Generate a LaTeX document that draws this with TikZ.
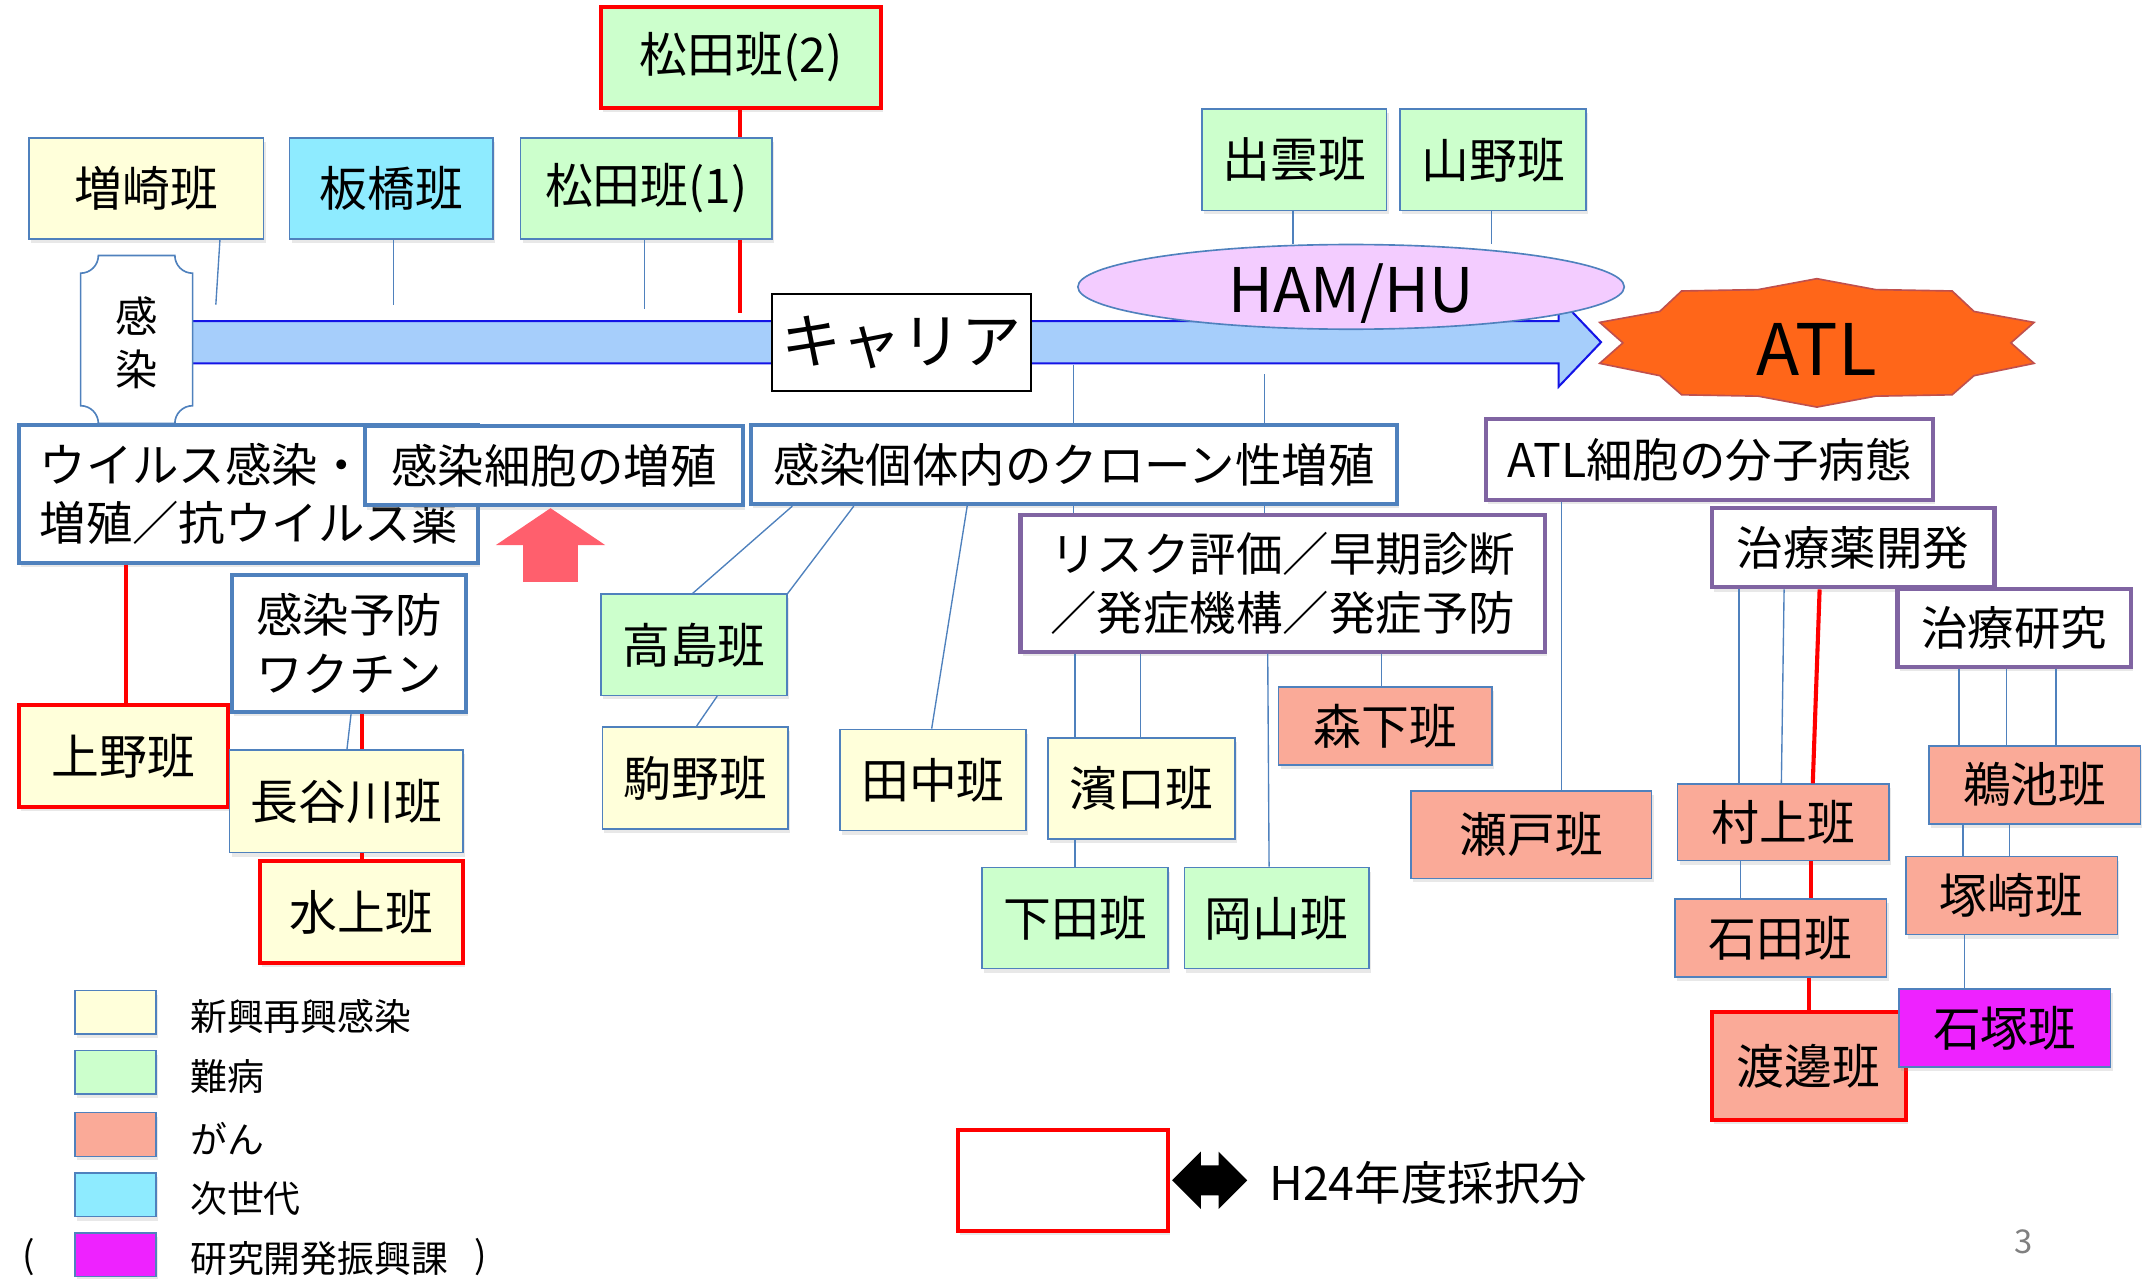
\documentclass[tikz,border=0pt]{standalone}
\usepackage{fontspec}
\setmainfont{Noto Sans CJK JP}
\usetikzlibrary{shapes.geometric,shadows}

\definecolor{shinko}{HTML}{FFFFDA}
\definecolor{nanbyo}{HTML}{CCFFCC}
\definecolor{gan}{HTML}{FAAA98}
\definecolor{jisedai}{HTML}{8EEBFF}
\definecolor{shinkoka}{HTML}{EE22FF}
\definecolor{frame}{HTML}{4F81BD}
\definecolor{violet}{HTML}{8064A2}
\definecolor{carrierfill}{HTML}{A6CEFB}
\definecolor{carrierline}{HTML}{1414E6}
\definecolor{hamfill}{HTML}{F3CCFF}
\definecolor{atlfill}{HTML}{FF6619}
\definecolor{atlline}{HTML}{C0504D}
\definecolor{uparrow}{HTML}{FF5F6D}

\begin{document}
\begin{tikzpicture}[x=1pt, y=-1pt]
    \tikzstyle{han} = [draw=frame, line width=1.2pt, inner sep=0pt, font=\fontsize{35}{42}\selectfont, drop shadow={opacity=0.18, shadow xshift=1.5pt, shadow yshift=-3pt}]
    \tikzstyle{saiyo} = [draw=red, line width=3pt]
    \tikzstyle{topic} = [draw=frame, line width=3pt, fill=white, inner sep=0pt, align=left, font=\fontsize{34}{43}\selectfont, drop shadow={opacity=0.18, shadow xshift=1.5pt, shadow yshift=-3pt}]
    \tikzstyle{goal} = [topic, draw=violet]
    \tikzstyle{link} = [draw=frame, line width=1pt]
    \tikzstyle{redlink} = [draw=red, line width=3pt]
    \tikzstyle{swatch} = [draw=frame, line width=1.2pt, minimum width=59pt, minimum height=32pt, inner sep=0pt, drop shadow={opacity=0.18, shadow xshift=1.5pt, shadow yshift=-3pt}]
    \tikzstyle{legtext} = [anchor=west, inner sep=0pt, font=\fontsize{27}{32}\selectfont]
    \useasboundingbox (0,0) rectangle (1568,936);

    % course of infection
    \draw[line width=1.5pt, draw=carrierline, fill=carrierfill] (120,235) -- (1141,235) -- (1141,218) -- (1172,250.5) -- (1141,283) -- (1141,266) -- (120,266) -- cycle;
    \draw[draw=frame, line width=1.2pt, fill=white] (72,187) -- (128,187) arc[start angle=180, end angle=270, radius=13pt] -- (141,297) arc[start angle=90, end angle=180, radius=13pt] -- (72,310) arc[start angle=0, end angle=90, radius=13pt] -- (59,200) arc[start angle=270, end angle=360, radius=13pt] -- cycle;
    \node[align=center, inner sep=0pt, font=\fontsize{31}{39}\selectfont] (kansen) at (100,251) {感\\染};
    \node[draw=black, line width=1.5pt, fill=white, inner sep=0pt, minimum width=190pt, minimum height=71pt, font=\fontsize{44}{50}\selectfont] (carrier) at (660,250.5) {キャリア};
    \node[ellipse, draw=frame, line width=1.2pt, fill=hamfill, inner sep=0pt, minimum width=400pt, minimum height=62pt] (ham) at (989,210) {};
    \node[inner sep=0pt, font=\fontsize{45}{50}\selectfont] (hamtext) at (989,215) {HAM/HU};
    \begin{scope}[shift={(1330,251)}]
        \draw[draw=atlline, line width=1.2pt, fill=atlfill] (0,-47) -- (-43,-39) -- (-99,-38) -- (-115,-23) -- (-159,-15) -- (-142,0) -- (-159,15) -- (-115,24) -- (-99,38) -- (-43,39) -- (0,47) -- (43,39) -- (99,38) -- (115,24) -- (159,15) -- (142,0) -- (159,-15) -- (115,-23) -- (99,-38) -- (43,-39) -- cycle;
    \end{scope}
    \node[inner sep=0pt, font=\fontsize{52}{56}\selectfont] (atl) at (1330,256) {ATL};

    % groups above the arrow
    \node[han, saiyo, fill=nanbyo, minimum width=205pt, minimum height=74pt] (matsudaB) at (542.5,42) {松田班(2)};
    \node[han, fill=shinko, minimum width=172pt, minimum height=74pt] (masuzaki) at (107,138) {増崎班};
    \node[han, fill=jisedai, minimum width=149pt, minimum height=74pt] (itabashi) at (286.5,138) {板橋班};
    \node[han, fill=nanbyo, minimum width=184pt, minimum height=74pt] (matsudaA) at (473,138) {松田班(1)};
    \node[han, fill=nanbyo, minimum width=135pt, minimum height=74pt] (izumo) at (947.5,117) {出雲班};
    \node[han, fill=nanbyo, minimum width=136pt, minimum height=74pt] (yamano) at (1093,117) {山野班};

    % topics
    \node[topic, minimum width=336pt, minimum height=101pt] (virus) at (182,361.5) {ウイルス感染・\\増殖／抗ウイルス薬};
    \node[topic, minimum width=277pt, minimum height=58pt] (cellgrowth) at (405.5,341) {感染細胞の増殖};
    \node[topic, minimum width=473pt, minimum height=58pt] (clone) at (786,340) {感染個体内のクローン性増殖};
    \node[topic, minimum width=171pt, minimum height=100pt] (vaccine) at (255.5,471) {感染予防\\ワクチン};
    \node[goal, minimum width=384pt, minimum height=100pt] (risk) at (939,427) {リスク評価／早期診断\\／発症機構／発症予防};
    \node[goal, minimum width=327pt, minimum height=59pt] (atlcell) at (1251.5,336.5) {ATL細胞の分子病態};
    \node[goal, minimum width=207pt, minimum height=58pt] (drugdev) at (1356.5,401) {治療薬開発};
    \node[goal, minimum width=171pt, minimum height=57pt] (therapy) at (1474.5,459.5) {治療研究};
    \fill[uparrow] (403,372) -- (443,399) -- (423,399) -- (423,426) -- (383,426) -- (383,399) -- (363,399) -- cycle;

    % groups below the arrow
    \node[han, saiyo, fill=shinko, minimum width=153pt, minimum height=75pt] (ueno) at (90.5,553.5) {上野班};
    \node[han, fill=shinko, minimum width=171pt, minimum height=75pt] (hasegawa) at (253.5,586.5) {長谷川班};
    \node[han, saiyo, fill=shinko, minimum width=149pt, minimum height=75pt] (mizukami) at (264.5,667.5) {水上班};
    \node[han, fill=nanbyo, minimum width=136pt, minimum height=74pt] (takashima) at (508,472) {高島班};
    \node[han, fill=shinko, minimum width=136pt, minimum height=75pt] (komano) at (509,569.5) {駒野班};
    \node[han, fill=shinko, minimum width=136pt, minimum height=74pt] (tanaka) at (683,571) {田中班};
    \node[han, fill=shinko, minimum width=137pt, minimum height=74pt] (hamaguchi) at (835.5,577) {濱口班};
    \node[han, fill=nanbyo, minimum width=136pt, minimum height=74pt] (shimoda) at (787,672) {下田班};
    \node[han, fill=nanbyo, minimum width=135pt, minimum height=74pt] (okayama) at (934.5,672) {岡山班};
    \node[han, fill=gan, minimum width=156pt, minimum height=57pt] (morishita) at (1014,531.5) {森下班};
    \node[han, fill=gan, minimum width=176pt, minimum height=64pt] (seto) at (1121,611) {瀬戸班};
    \node[han, fill=gan, minimum width=155pt, minimum height=56pt] (murakami) at (1305.5,602) {村上班};
    \node[han, fill=gan, minimum width=155pt, minimum height=57pt] (ishida) at (1303.5,686.5) {石田班};
    \node[han, saiyo, fill=gan, minimum width=142pt, minimum height=79pt] (watanabe) at (1324,780.5) {渡邊班};
    \node[han, fill=gan, minimum width=155pt, minimum height=57pt] (uike) at (1489.5,574.5) {鵜池班};
    \node[han, fill=gan, minimum width=155pt, minimum height=57pt] (tsukazaki) at (1472.5,655.5) {塚崎班};
    \node[han, fill=shinkoka, minimum width=155pt, minimum height=57pt] (ishizuka) at (1467.5,752.5) {石塚班};

    % connectors
    \coordinate (a1) at (158,223);
    \coordinate (a2) at (288,223);
    \coordinate (a3) at (472,226);
    \coordinate (a4) at (541.5,229);
    \coordinate (c1) at (786,267);
    \coordinate (c2) at (925.5,274);
    \draw[link] ([xshift=54pt]masuzaki.south) -- (a1);
    \draw[link] ([xshift=1.5pt]itabashi.south) -- (a2);
    \draw[link] ([xshift=-1pt]matsudaA.south) -- (a3);
    \draw[redlink] ([xshift=68.5pt]matsudaA.south) -- (a4);
    \draw[redlink] ([xshift=-1pt]matsudaB.south) -- ([xshift=68.5pt]matsudaA.north);
    \draw[link] ([xshift=-1pt]izumo.south) -- ([xshift=-1pt]izumo.south |- ham.north);
    \draw[link] ([xshift=-1pt]yamano.south) -- ([xshift=-1pt]yamano.south |- ham.north);
    \draw[link] (c1) -- (clone.north -| c1);
    \draw[link] (c2) -- (clone.north -| c2);
    \draw[link] (clone.south -| c1) -- (risk.north -| c1);
    \draw[link] (clone.south -| c2) -- (risk.north -| c2);
    \draw[link] ([xshift=-206pt]clone.south) -- ([xshift=-1pt]takashima.north);
    \draw[link] ([xshift=-161pt]clone.south) -- (takashima.north east);
    \draw[link] ([xshift=17pt]takashima.south) -- ([xshift=1pt]komano.north);
    \draw[link] ([xshift=-78pt]clone.south) -- ([xshift=-1pt]tanaka.north);
    \draw[link] ([xshift=-152pt]risk.south) -- ([xshift=-48.5pt]hamaguchi.north);
    \draw[link] ([xshift=-104pt]risk.south) -- ([xshift=-0.5pt]hamaguchi.north);
    \draw[link] ([xshift=-48.5pt]hamaguchi.south) -- (shimoda.north);
    \draw[link] ([xshift=-11pt]risk.south) -- ([xshift=-5.5pt]okayama.north);
    \draw[link] ([xshift=72.5pt]risk.south) -- ([xshift=-2.5pt]morishita.north);
    \draw[link] ([xshift=-108.5pt]atlcell.south) -- ([xshift=22pt]seto.north);
    \draw[link] ([xshift=-83.5pt]drugdev.south) -- ([xshift=-32.5pt]murakami.north);
    \draw[link] ([xshift=-50.5pt]drugdev.south) -- ([xshift=-1.5pt]murakami.north);
    \draw[redlink] ([xshift=-24.5pt]drugdev.south) -- ([xshift=21.5pt]murakami.north);
    \draw[link] ([xshift=-31.5pt]murakami.south) -- ([xshift=-29.5pt]ishida.north);
    \draw[redlink] ([xshift=20.5pt]murakami.south) -- ([xshift=22.5pt]ishida.north);
    \draw[redlink] ([xshift=20.5pt]ishida.south) -- (watanabe.north);
    \draw[link] ([xshift=-40.5pt]therapy.south) -- ([xshift=-55.5pt]uike.north);
    \draw[link] ([xshift=-5.5pt]therapy.south) -- ([xshift=-20.5pt]uike.north);
    \draw[link] ([xshift=30.5pt]therapy.south) -- ([xshift=15.5pt]uike.north);
    \draw[link] ([xshift=-52.5pt]uike.south) -- ([xshift=-35.5pt]tsukazaki.north);
    \draw[link] ([xshift=-18.5pt]uike.south) -- ([xshift=-1.5pt]tsukazaki.north);
    \draw[link] ([xshift=-34.5pt]tsukazaki.south) -- ([xshift=-29.5pt]ishizuka.north);
    \draw[redlink] ([xshift=-90pt]virus.south) -- ([xshift=1.5pt]ueno.north);
    \draw[link] ([xshift=1.5pt]vaccine.south) -- ([xshift=0.5pt]hasegawa.north);
    \draw[redlink] ([xshift=9.5pt]vaccine.south) -- ([xshift=11.5pt]hasegawa.north);
    \draw[redlink] ([xshift=11.5pt]hasegawa.south) -- ([xshift=0.5pt]mizukami.north);

    % legend
    \node[swatch, fill=shinko] (legShinko) at (84.5,741) {};
    \node[swatch, fill=nanbyo] (legNanbyo) at (84.5,785) {};
    \node[swatch, fill=gan] (legGan) at (84.5,830.5) {};
    \node[swatch, fill=jisedai] (legJisedai) at (84.5,874.5) {};
    \node[swatch, fill=shinkoka] (legShinkoka) at (84.5,918.5) {};
    \node[legtext] (legShinkoText) at (139,744) {新興再興感染};
    \node[legtext] (legNanbyoText) at (139,788) {難病};
    \node[legtext] (legGanText) at (139,833.5) {がん};
    \node[legtext] (legJisedaiText) at (139,877.5) {次世代};
    \node[legtext] (legShinkokaText) at (139,921.5) {研究開発振興課};
    \node[legtext] (legOpen) at (16,920) {(};
    \node[legtext] (legClose) at (347,920) {)};
    \node[han, saiyo, fill=white, minimum width=154pt, minimum height=74pt] (legSaiyo) at (778,864) {};
    \fill[black] (858,864) -- (879,843) -- (879,853) -- (892,853) -- (892,843) -- (913,864) -- (892,885) -- (892,875) -- (879,875) -- (879,885) -- cycle;
    \node[anchor=west, inner sep=0pt, font=\fontsize{34}{40}\selectfont] (legSaiyoText) at (929,866) {H24年度採択分};
    \node[text=gray, inner sep=0pt, font=\fontsize{24}{28}\selectfont] (page) at (1481,909) {3};
\end{tikzpicture}
\end{document}
